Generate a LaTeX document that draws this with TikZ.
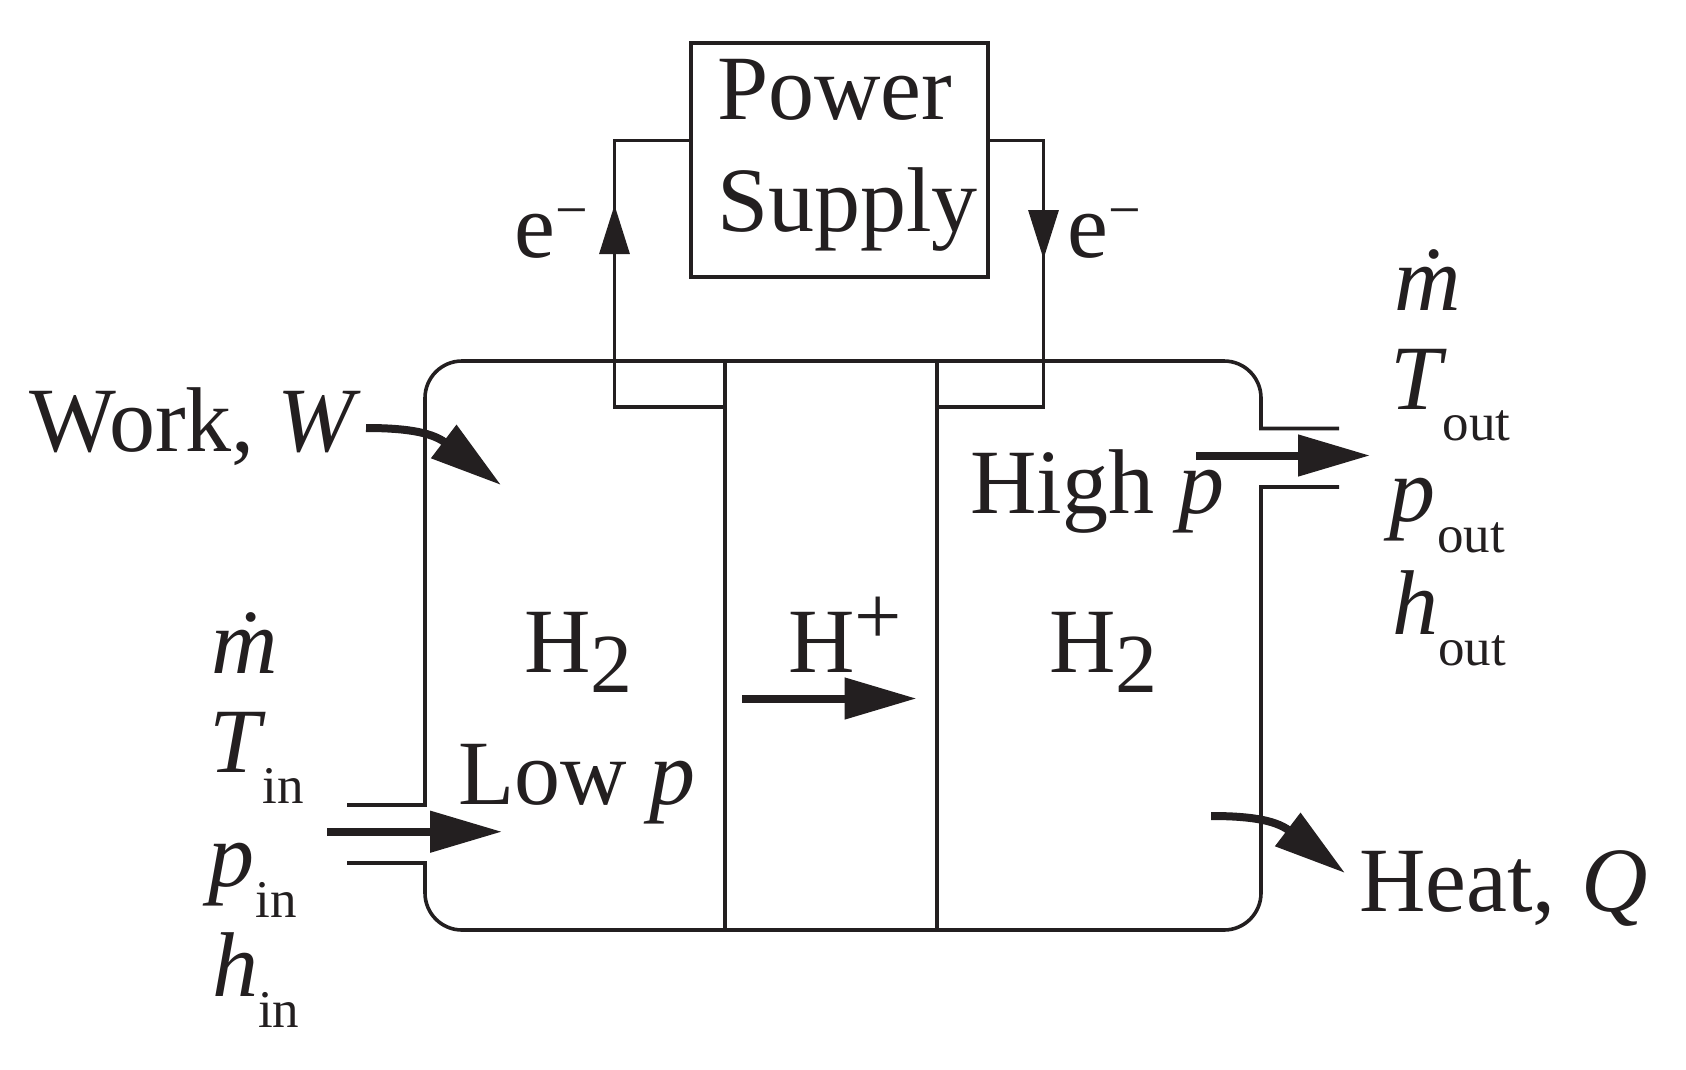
\documentclass[tikz,border=0pt]{standalone}
\usepackage{fontspec}
\setmainfont{Liberation Serif}
\usetikzlibrary{arrows.meta}
\definecolor{ink}{RGB}{35,31,32}
\newcommand{\subtxt}[2]{\hspace{#1pt}\raisebox{-31pt}{\fontsize{53}{53}\selectfont #2}}
\newcommand{\subtwo}{\raisebox{-20pt}{\fontsize{84}{84}\selectfont 2}}
\newcommand{\supminus}{\raisebox{28pt}{\fontsize{58}{58}\selectfont −}}

\begin{document}
\begin{tikzpicture}[x=1pt,y=-1pt,
  lbl/.style={anchor=base west,inner sep=0pt,text=ink,font=\fontsize{92}{92}\selectfont},
  wall/.style={draw=ink,line width=3.6pt},
  band/.style={draw=ink,line width=4.4pt,shorten <=37pt,shorten >=37pt},
  flow/.style={draw=ink,line width=8pt,-{Triangle[length=72pt,width=40pt]}},
  electron/.style={draw=ink,line width=3.3pt,-{Triangle[length=49pt,width=30pt]}}]

  \useasboundingbox (0,0) rectangle (1686,1069);

  \node [wall,rectangle,minimum width=297pt,minimum height=234pt,inner sep=0pt,align=left,
    text=ink,text depth=30pt,font=\fontsize{92}{112}\selectfont] (psu) at (839.5,160)
      {\hspace*{16pt}Power\\\hspace*{16pt}Supply};

  \coordinate (inu) at (347,805);
  \coordinate (ind) at (347,863);
  \coordinate (outu) at (1339,428.5);
  \coordinate (outd) at (1339,487);
  \coordinate (lft) at (425,361);
  \coordinate (rgt) at (1261,361);
  \coordinate (lfb) at (425,930);
  \coordinate (rgb) at (1261,930);
  \coordinate (mlt) at (725,361);
  \coordinate (mlb) at (725,930);
  \coordinate (mrt) at (937,361);
  \coordinate (mrb) at (937,930);
  \coordinate (wla) at (614.5,140.6);
  \coordinate (wlb) at (614.5,407);
  \coordinate (wra) at (1043.5,140.6);
  \coordinate (wrb) at (1043.5,407);

  % case, with its two ports
  \draw [wall] (inu) -- (inu -| lft) [rounded corners=37pt] -- (lft) -- (rgt)
    [sharp corners] -- (outu -| rgt) -- (outu);
  \draw [wall] (ind) -- (ind -| lfb) [rounded corners=37pt] -- (lfb) -- (rgb)
    [sharp corners] -- (outd -| rgb) -- (outd);
  \draw [band] (lft) -- (rgt);
  \draw [band] (lfb) -- (rgb);
  \draw [wall] (mlt) -- (mlb);
  \draw [wall] (mrt) -- (mrb);

  % wires to the power supply
  \draw [wall] (psu.west |- wla) -- (wla) -- (wlb) -- (mlt |- wlb);
  \draw [wall] (psu.east |- wra) -- (wra) -- (wrb) -- (mrt |- wrb);
  \coordinate (ela) at (614.5,264);
  \coordinate (elb) at (614.5,205);
  \coordinate (era) at (1043.5,201);
  \coordinate (erb) at (1043.5,259);
  \draw [electron] (ela) -- (elb);
  \draw [electron] (era) -- (erb);

  % flows
  \coordinate (fia) at (327,831.7);
  \coordinate (fib) at (502,831.7);
  \coordinate (foa) at (1196,455.5);
  \coordinate (fob) at (1370,455.5);
  \coordinate (fma) at (742,698.5);
  \coordinate (fmb) at (916.5,698.5);
  \draw [flow] (fia) -- (fib);
  \draw [flow] (foa) -- (fob);
  \draw [flow] (fma) -- (fmb);

  \coordinate (wka) at (366,428);
  \coordinate (wkb) at (501,485);
  \coordinate (hta) at (1211,816);
  \coordinate (htb) at (1345,873);
  \draw [flow] (wka) .. controls (400,428) and (430,431) .. (wkb);
  \draw [flow] (hta) .. controls (1245,816) and (1274,819) .. (htb);

  \node [lbl] (wrk) at (29.6,451) {Work, \textit{W}};
  \node [lbl] (hot) at (1359,911) {Heat,\hspace{26pt}\textit{Q}};
  \node [lbl] (hig) at (970,513.5) {High\hspace{24pt}\textit{p}};
  \node [lbl] (low) at (458,804) {Low\hspace{23pt}\textit{p}};
  \node [lbl] (hl) at (524,672) {H\subtwo};
  \node [lbl] (hr) at (1049,672) {H\subtwo};
  \node [lbl] (hp) at (788,672) {H\raisebox{28pt}{\fontsize{84}{84}\selectfont +}};
  \node [lbl] (el) at (514,257) {e\supminus};
  \node [lbl] (er) at (1067,257) {e\supminus};

  \node [lbl] (mi) at (211,673) {\textit{\.m}};
  \node [lbl] (ti) at (209.6,772) {\textit{T}\subtxt{-4}{in}};
  \node [lbl] (pi) at (208,886) {\textit{p}\subtxt{1.5}{in}};
  \node [lbl] (ei) at (212,996.5) {\textit{h}\subtxt{0}{in}};

  \node [lbl] (mo) at (1394,310) {\textit{\.m}};
  \node [lbl] (to) at (1390,409) {\textit{T}\subtxt{-4}{out}};
  \node [lbl] (po) at (1389,521) {\textit{p}\subtxt{2}{out}};
  \node [lbl] (eo) at (1392,634) {\textit{h}\subtxt{0}{out}};
\end{tikzpicture}
\end{document}
